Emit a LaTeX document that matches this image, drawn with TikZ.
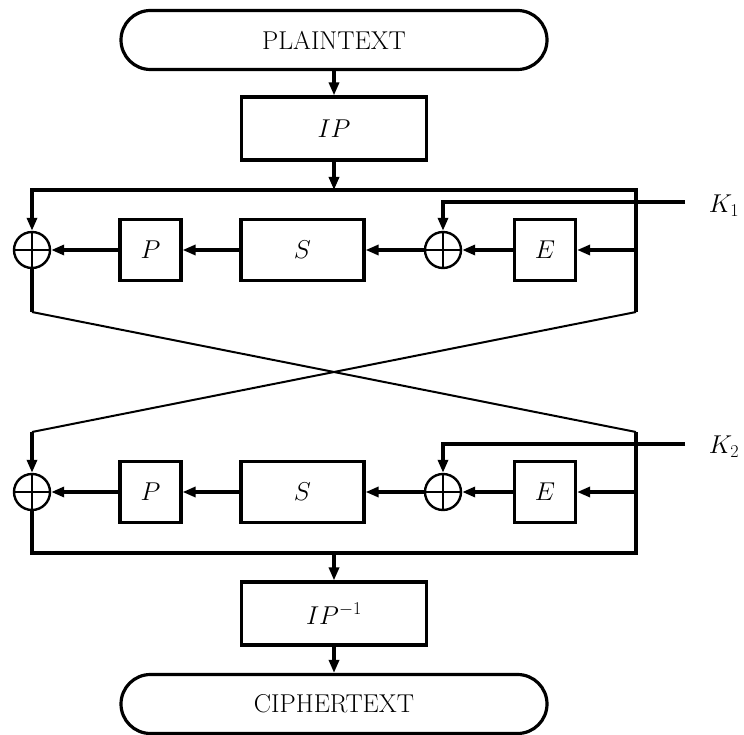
\documentclass[tikz,border=0pt]{standalone}
\usepackage{fix-cm}
\usetikzlibrary{arrows.meta, positioning}

\begin{document}
\begin{tikzpicture}[x=1pt, y=-1pt, line width=3.2pt, >={Triangle[length=13pt,width=10pt]}, font=\fontsize{25.8}{30}\selectfont]
    \tikzstyle{term} = [rectangle, draw, rounded corners=29.5pt, minimum width=426pt, minimum height=59pt]
    \tikzstyle{block} = [rectangle, draw, minimum width=61pt, minimum height=61pt]
    \tikzstyle{wide} = [block, minimum width=123pt]
    \tikzstyle{perm} = [block, minimum width=185pt, minimum height=63pt]
    \tikzstyle{xorop} = [circle, draw, line width=2.4pt, minimum size=36pt, inner sep=0pt,
        path picture={\draw (path picture bounding box.north) -- (path picture bounding box.south)
                            (path picture bounding box.west) -- (path picture bounding box.east);}]
    \tikzstyle{swap} = [line width=2pt]

    \useasboundingbox (0,0) rectangle (744,735);

    \node [term] (plain) at (334,40) {PLAINTEXT};
    \node [perm] (ip) at (334,128.5) {$IP$};

    % round 1
    \coordinate (t1l) at (32,190);
    \coordinate (t1r) at (636,190);
    \node [xorop] (xa1) at (32,250) {};
    \node [block] (p1) at (150.5,250) {$P$};
    \node [wide] (s1) at (302.5,250) {$S$};
    \node [xorop] (xb1) at (443,250) {};
    \node [block] (e1) at (545,250) {$E$};
    \node (k1) at (724,206) {$K_1$};
    \coordinate (k1in) at (685,202);

    % swap
    \coordinate (c1l) at (32,312);
    \coordinate (c1r) at (636,312);
    \coordinate (c2l) at (32,432);
    \coordinate (c2r) at (636,432);

    % round 2
    \node [xorop] (xa2) at (32,492) {};
    \node [block] (p2) at (150.5,492) {$P$};
    \node [wide] (s2) at (302.5,492) {$S$};
    \node [xorop] (xb2) at (443,492) {};
    \node [block] (e2) at (545,492) {$E$};
    \node (k2) at (724,447) {$K_2$};
    \coordinate (k2in) at (685,444);
    \coordinate (b2l) at (32,553);
    \coordinate (b2r) at (636,553);

    \node [perm] (ipinv) at (334,613.5) {$IP^{-1}$};
    \node [term] (cipher) at (334,704) {CIPHERTEXT};

    \draw [->] (plain) -- (ip);
    \draw [->] (ip) -- (ip |- t1l);
    \draw [->] (c1r) -- (t1r) -- (t1l) -- (xa1);
    \draw [->] (e1 -| t1r) -- (e1);
    \draw [->] (e1) -- (xb1);
    \draw [->] (xb1) -- (s1);
    \draw [->] (s1) -- (p1);
    \draw [->] (p1) -- (xa1);
    \draw [->] (k1in) -| (xb1);
    \draw (xa1) -- (c1l);

    \draw [swap] (c1l) -- (c2r);
    \draw [swap] (c1r) -- (c2l);

    \draw [->] (c2l) -- (xa2);
    \draw (xa2) -- (b2l) -- (b2r) -- (c2r);
    \draw [->] (e2 -| c2r) -- (e2);
    \draw [->] (e2) -- (xb2);
    \draw [->] (xb2) -- (s2);
    \draw [->] (s2) -- (p2);
    \draw [->] (p2) -- (xa2);
    \draw [->] (k2in) -| (xb2);
    \draw [->] (ipinv |- b2l) -- (ipinv);
    \draw [->] (ipinv) -- (cipher);
\end{tikzpicture}
\end{document}
